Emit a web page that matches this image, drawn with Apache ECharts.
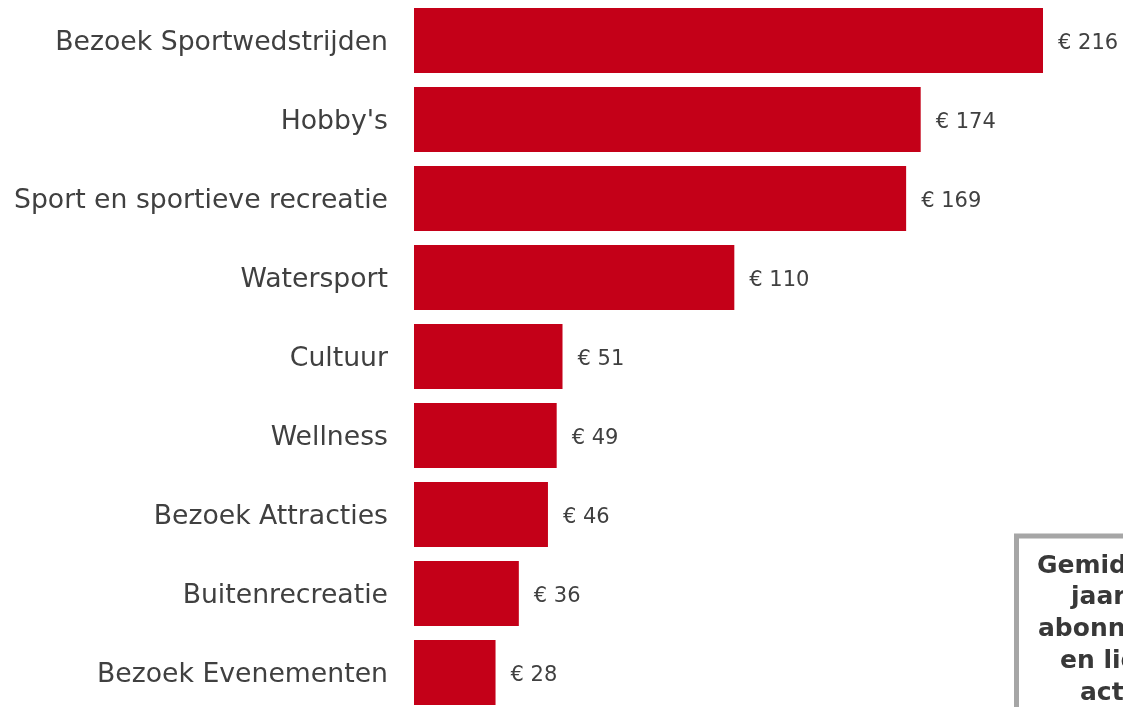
<!DOCTYPE html>
<html>
<head>
<meta charset="utf-8">
<script src="https://cdn.jsdelivr.net/npm/echarts@6/dist/echarts.min.js"></script>
<style>
  html, body { margin: 0; padding: 0; background: #fff; }
  #box { width: 1123px; height: 707px; }
</style>
</head>
<body>
<div id="box"></div>
<script>
// categorieen en gemiddelde jaarlijkse bedragen (euro)
var categories = ['Bezoek Sportwedstrijden', "Hobby's", 'Sport en sportieve recreatie', 'Watersport',
  'Cultuur', 'Wellness', 'Bezoek Attracties', 'Buitenrecreatie', 'Bezoek Evenementen'];
var amounts = [216, 174, 169, 110, 51, 49, 46, 36, 28];
var noteLines = ['Gemiddelde', 'jaarlijkse', 'abonnementen', 'en lidmaatschappen', 'activiteiten'];

var chart = echarts.init(document.getElementById('box'));
var fontName = 'DejaVu Sans, Verdana, sans-serif';

// tekstvak rechtsonder (valt deels buiten beeld)
var noteLeft = [1037, 1071, 1038, 1060, 1080];
var graphics = [{
  type: 'rect',
  shape: { x: 1016.5, y: 536, width: 300, height: 300 },
  style: { fill: '#fff', stroke: '#a6a6a6', lineWidth: 5 },
  z: 10
}];
noteLines.forEach(function (t, i) {
  graphics.push({
    type: 'text',
    x: noteLeft[i],
    y: 566 + i * 31.8,
    style: {
      text: t,
      font: 'bold 25px ' + fontName,
      fill: '#383838',
      textAlign: 'left',
      textVerticalAlign: 'middle'
    },
    z: 11
  });
});

var option = {
  animation: false,
  backgroundColor: '#fff',
  grid: { left: 414, top: 1, width: 629, height: 711, outerBoundsMode: 'none', containLabel: false },
  xAxis: {
    type: 'value',
    min: 0,
    max: 216,
    show: false
  },
  yAxis: {
    type: 'category',
    data: categories,
    inverse: true,
    axisLine: { show: false },
    axisTick: { show: false },
    axisLabel: {
      margin: 26,
      formatter: function (v) { return '{c|' + v + '}'; },
      rich: {
        c: {
          fontSize: 26.7,
          fontFamily: fontName,
          color: '#404040',
          padding: [5, 0, 0, 0]
        }
      }
    }
  },
  series: [{
    type: 'bar',
    data: amounts,
    barCategoryGap: '17.7%',
    itemStyle: { color: '#C40018' },
    label: {
      show: true,
      position: 'right',
      distance: 15,
      offset: [0, 3],
      fontSize: 21,
      fontFamily: fontName,
      color: '#404040',
      formatter: function (p) { return '\u20ac ' + p.value; }
    }
  }],
  graphic: graphics
};
chart.setOption(option);
</script>
</body>
</html>
